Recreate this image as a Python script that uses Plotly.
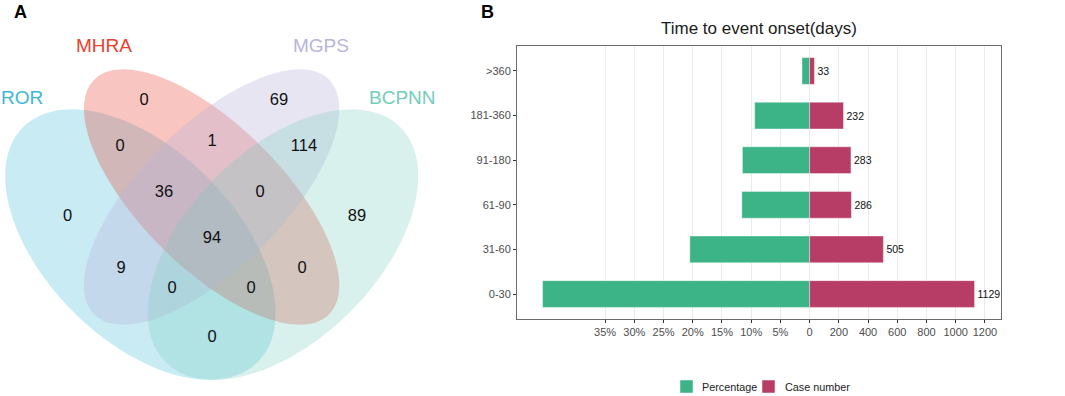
import numpy as np
import plotly.graph_objects as go

# ---------------- Data ----------------
# Panel A: Venn diagram (4 signal-detection methods)
venn_sets = ["ROR", "MHRA", "MGPS", "BCPNN"]
venn_regions = ["ROR", "MHRA", "MGPS", "BCPNN",
                "ROR&MHRA", "MHRA&MGPS", "MGPS&BCPNN",
                "ROR&MHRA&MGPS", "MHRA&MGPS&BCPNN", "ALL",
                "ROR&MGPS", "MHRA&BCPNN",
                "ROR&MGPS&BCPNN", "ROR&MHRA&BCPNN", "ROR&BCPNN"]
venn_counts = [0, 0, 69, 89, 0, 1, 114, 36, 0, 94, 9, 0, 0, 0, 0]

# Panel B: time to event onset
onset_groups = ["0-30", "31-60", "61-90", "91-180", "181-360", ">360"]
case_numbers = [1129, 505, 286, 283, 232, 33]
percentages = [45.7, 20.5, 11.6, 11.5, 9.4, 1.3]
pct_tick_values = [35, 30, 25, 20, 15, 10, 5]
case_tick_values = [0, 200, 400, 600, 800, 1000, 1200]
legend_names = ["Percentage", "Case number"]

# ---------------- Layout / style ----------------
W, H = 1065, 396
PA_W = 480  # width of panel A drawing area (px)
FONT = "Liberation Sans, Arial, sans-serif"
PCT_SCALE = 40  # 1% drawn as 40 case units (5% <-> 200 cases)

set_label_colors = ["#3DB7D6", "#E8402F", "#B9B5DB", "#72CDB9"]
set_fill_colors = ["rgba(61,183,214,0.28)", "rgba(232,64,47,0.30)",
                   "rgba(185,181,219,0.35)", "rgba(114,205,185,0.27)"]
# ellipse geometry in panel-A pixel space: cx, cy, a, b, angle (deg, screen)
ellipses = [(140.4, 244.6, 166, 95, 45),
            (211.6, 197.0, 166, 71, 45),
            (211.6, 197.0, 166, 71, -45),
            (283.0, 244.6, 166, 95, -45)]
set_label_pos = [(22, 97), (103.5, 45), (321, 45), (402, 97)]
region_pos = [(67.7, 217), (144, 101), (279, 101), (357, 217),
              (120, 147), (212, 142), (304, 147),
              (164, 193), (260, 193), (212, 239),
              (121, 269), (302, 269),
              (172, 289), (251, 289), (212, 338)]

GREEN = "#3CB487"
MAGENTA = "#B73D66"
bar_colors = [GREEN, MAGENTA]
# custom legend geometry (px): swatch left x, text left x
legend_swatch_x = [680, 762]
legend_text_x = [700, 783]
legend_y = 386.5
legend_sw = 13

fig = go.Figure()

# ---- Panel B bars ----
fig.add_trace(go.Bar(
    y=onset_groups, x=[-p * PCT_SCALE for p in percentages], orientation="h",
    name=legend_names[0], marker=dict(color=GREEN, line=dict(color="rgba(255,255,255,0.5)", width=0.8)),
    width=0.6, hoverinfo="skip", xaxis="x", yaxis="y", showlegend=False))
fig.add_trace(go.Bar(
    y=onset_groups, x=case_numbers, orientation="h",
    name=legend_names[1], marker=dict(color=MAGENTA, line=dict(color="rgba(255,255,255,0.5)", width=0.8)),
    width=0.6, text=[str(c) for c in case_numbers], textposition="outside",
    textfont=dict(size=10.5, color="#111111", family=FONT), cliponaxis=False,
    constraintext="none", hoverinfo="skip", xaxis="x", yaxis="y", showlegend=False))

# ---- Panel A counts ----
fig.add_trace(go.Scatter(
    x=[p[0] for p in region_pos], y=[p[1] for p in region_pos],
    text=[str(c) for c in venn_counts], mode="text",
    textfont=dict(size=16.5, color="#111111", family=FONT),
    showlegend=False, hoverinfo="skip", xaxis="x2", yaxis="y2", cliponaxis=False))

shapes = []
for (cx, cy, a, b, ang), fc in zip(ellipses, set_fill_colors):
    t = np.linspace(0, 2 * np.pi, 160)
    th = np.deg2rad(ang)
    xs = cx + a * np.cos(t) * np.cos(th) - b * np.sin(t) * np.sin(th)
    ys = cy + a * np.cos(t) * np.sin(th) + b * np.sin(t) * np.cos(th)
    path = "M " + " L ".join(f"{x:.2f},{y:.2f}" for x, y in zip(xs, ys)) + " Z"
    shapes.append(dict(type="path", path=path, xref="x2", yref="y2",
                       fillcolor=fc, line=dict(width=0), layer="below"))

annotations = []
for name, (x, y), col in zip(venn_sets, set_label_pos, set_label_colors):
    annotations.append(dict(x=x, y=y, xref="x2", yref="y2", text=name, showarrow=False,
                            xanchor="center", yanchor="middle",
                            font=dict(size=19, color=col, family=FONT)))
annotations.append(dict(x=20.5, y=12, xref="x2", yref="y2", text="<b>A</b>", showarrow=False,
                        xanchor="center", yanchor="middle",
                        font=dict(size=18, color="#000000", family=FONT)))
annotations.append(dict(x=487 / W, y=1 - 12 / H, xref="paper", yref="paper", text="<b>B</b>",
                        xanchor="center", yanchor="middle",
                        showarrow=False, font=dict(size=18, color="#000000", family=FONT)))
annotations.append(dict(x=759 / W, y=1 - 28 / H, xref="paper", yref="paper",
                        text="Time to event onset(days)", showarrow=False,
                        xanchor="center", yanchor="middle",
                        font=dict(size=17, color="#1a1a1a", family=FONT)))

# ---- custom legend (swatches + labels) ----
for name, col, sx, tx in zip(legend_names, bar_colors, legend_swatch_x, legend_text_x):
    shapes.append(dict(type="rect", xref="paper", yref="paper",
                       x0=sx / W, x1=(sx + legend_sw) / W,
                       y0=1 - (legend_y + legend_sw / 2) / H, y1=1 - (legend_y - legend_sw / 2) / H,
                       fillcolor=col, line=dict(color="rgba(255,255,255,0.6)", width=0.8)))
    annotations.append(dict(x=tx / W, y=1 - legend_y / H, xref="paper", yref="paper",
                            text=name, showarrow=False, xanchor="left", yanchor="middle",
                            font=dict(size=10.8, color="#222222", family=FONT)))

tickvals = [-v * PCT_SCALE for v in pct_tick_values] + case_tick_values
ticktext = [f"{v}%" for v in pct_tick_values] + [str(v) for v in case_tick_values]

fig.update_layout(
    width=W, height=H, margin=dict(l=0, r=0, t=0, b=0),
    paper_bgcolor="white", plot_bgcolor="rgba(0,0,0,0)",
    barmode="overlay", bargap=0.4, showlegend=False,
    font=dict(family=FONT),
    shapes=shapes, annotations=annotations,
    xaxis=dict(domain=[517 / W, 1001 / W], range=[-2003, 1310], tickvals=tickvals, ticktext=ticktext,
               showgrid=True, gridcolor="#EBEBEB", gridwidth=1, zeroline=False,
               showline=True, linecolor="#6b6b6b", linewidth=1, mirror=True,
               ticks="outside", ticklen=3, tickcolor="#333333",
               tickfont=dict(size=11, color="#4D4D4D", family=FONT), anchor="y", fixedrange=True),
    yaxis=dict(domain=[1 - 319 / H, 1 - 46 / H], range=[-0.56, 5.56], type="category",
               categoryorder="array", categoryarray=onset_groups,
               showgrid=False, zeroline=False,
               showline=True, linecolor="#6b6b6b", linewidth=1, mirror=True,
               ticks="outside", ticklen=3, tickcolor="#333333",
               tickfont=dict(size=11, color="#4D4D4D", family=FONT), anchor="x", fixedrange=True),
    xaxis2=dict(domain=[0, PA_W / W], range=[0, PA_W], visible=False, anchor="y2", fixedrange=True),
    yaxis2=dict(domain=[0, 1], range=[H, 0], visible=False, anchor="x2", fixedrange=True),
)

fig.write_html("out.html", config={"displayModeBar": False},
               post_script="document.body.style.margin='0';")
